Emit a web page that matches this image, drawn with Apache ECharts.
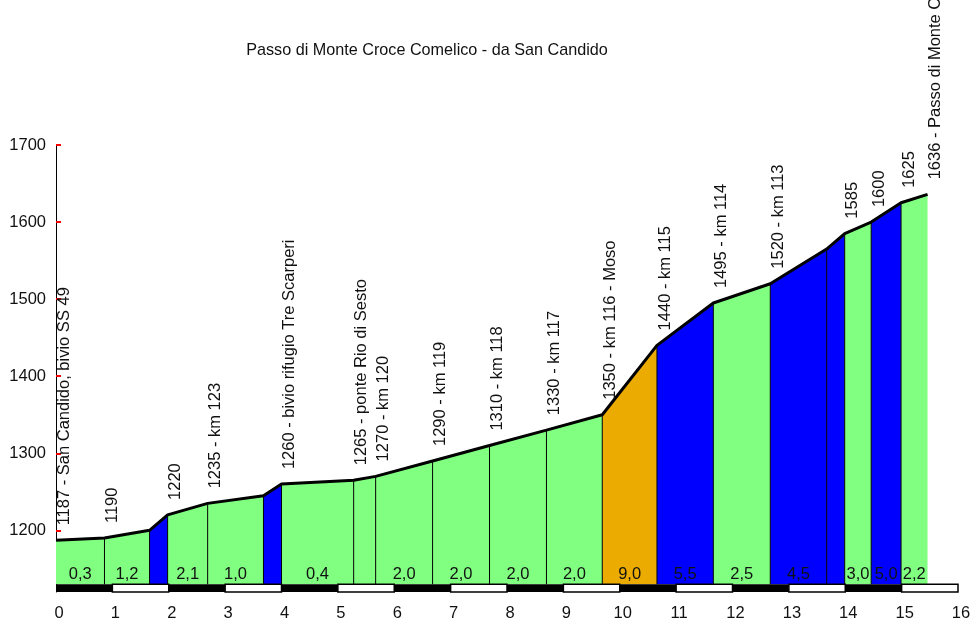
<!DOCTYPE html>
<html><head><meta charset="utf-8">
<script src="https://cdn.jsdelivr.net/npm/echarts@6/dist/echarts.min.js"></script>
<style>html,body{margin:0;padding:0;background:#fff}#c{width:976px;height:625px}</style>
</head><body><div id="c"></div>
<script>
const titleText = 'Passo di Monte Croce Comelico - da San Candido';
const kmPoints = [0, 0.86, 1.66, 1.98, 2.69, 3.68, 4.0, 5.28, 5.67, 6.68, 7.69, 8.70, 9.69, 10.66, 11.66, 12.67, 13.67, 13.99, 14.46, 14.99, 15.46];
const elevations = [1187, 1190, 1200, 1220, 1235, 1245, 1260, 1265, 1270, 1290, 1310, 1330, 1350, 1440, 1495, 1520, 1565, 1585, 1600, 1625, 1636];
const pointLabels = [
  '1187 - San Candido, bivio SS 49', '1190', '', '1220', '1235 - km 123', '',
  '1260 - bivio rifugio Tre Scarperi', '1265 - ponte Rio di Sesto', '1270 - km 120',
  '1290 - km 119', '1310 - km 118', '1330 - km 117', '1350 - km 116 - Moso',
  '1440 - km 115', '1495 - km 114', '1520 - km 113', '', '1585', '1600', '1625',
  '1636 - Passo di Monte Croce Comelico'
];
const gradeLabels = ['0,3', '1,2', '', '2,1', '1,0', '', '0,4', '', '2,0', '2,0', '2,0', '2,0', '9,0', '5,5', '2,5', '4,5', '', '3,0', '5,0', '2,2'];
const gradeClass = ['low', 'low', 'mid', 'low', 'low', 'mid', 'low', 'low', 'low', 'low', 'low', 'low', 'high', 'mid', 'low', 'mid', 'mid', 'low', 'mid', 'low'];
const kmTicks = [0, 1, 2, 3, 4, 5, 6, 7, 8, 9, 10, 11, 12, 13, 14, 15, 16];
const elevationTicks = [1200, 1300, 1400, 1500, 1600, 1700];

const FONT = '"Liberation Sans", Arial, sans-serif';
const FS = 16.5;
const TXT = '#111';
const classColor = { low: '#80FF80', mid: '#0000FF', high: '#EBAB00' };
const BASE = 1130, FLOOR = 1120;

const chart = echarts.init(document.getElementById('c'));

const segmentSeries = {
  type: 'custom', z: 2,
  data: gradeLabels.map((g, i) => [i]),
  renderItem: function (params, api) {
    const i = api.value(0);
    const a = api.coord([kmPoints[i], elevations[i]]);
    const b = api.coord([kmPoints[i + 1], elevations[i + 1]]);
    const a0 = api.coord([kmPoints[i], BASE]);
    const b0 = api.coord([kmPoints[i + 1], BASE]);
    const children = [
      { type: 'polygon', shape: { points: [a0, a, b, b0] }, style: { fill: classColor[gradeClass[i]] } }
    ];
    if (i > 0) {
      children.push({ type: 'line', shape: { x1: a0[0], y1: a0[1], x2: a[0], y2: a[1] }, style: { stroke: '#000', lineWidth: 1 } });
    }
    if (gradeLabels[i]) {
      children.push({ type: 'text', style: { text: gradeLabels[i], x: (a0[0] + b0[0]) / 2, y: a0[1] - 10, align: 'center', verticalAlign: 'middle', fontFamily: FONT, fontSize: FS, fill: TXT } });
    }
    return { type: 'group', children: children };
  }
};

const barSeries = {
  type: 'custom', z: 3,
  data: kmTicks.slice(0, -1).map(k => [k]),
  renderItem: function (params, api) {
    const k = api.value(0);
    const p1 = api.coord([k, BASE]);
    const p2 = api.coord([k + 1, FLOOR]);
    const even = k % 2 === 0;
    return {
      type: 'rect',
      shape: { x: p1[0], y: p1[1], width: p2[0] - p1[0], height: p2[1] - p1[1] },
      style: even ? { fill: '#000' } : { fill: '#fff', stroke: '#000', lineWidth: 1.5 }
    };
  }
};

const lineSeries = {
  type: 'line', z: 4,
  data: kmPoints.map((k, i) => [k, elevations[i]]),
  symbol: 'none',
  lineStyle: { color: '#000', width: 3 },
  silent: true
};

const labelSeries = {
  type: 'custom', z: 5, clip: false,
  data: kmPoints.map((k, i) => [i]),
  renderItem: function (params, api) {
    const i = api.value(0);
    if (!pointLabels[i]) return null;
    const p = api.coord([kmPoints[i], elevations[i]]);
    return {
      type: 'text', x: p[0] + 8, y: p[1] - 15, rotation: Math.PI / 2,
      style: { text: pointLabels[i], x: 0, y: 0, align: 'left', verticalAlign: 'middle', fontFamily: FONT, fontSize: FS, fill: TXT }
    };
  }
};

chart.setOption({
  animation: false,
  title: { text: titleText, left: 422, top: 38, textAlign: 'center', textStyle: { fontFamily: FONT, fontSize: 16.2, fontWeight: 'normal', color: TXT } },
  grid: { left: 56, right: 18, top: 145, bottom: 33 },
  xAxis: {
    type: 'value', min: 0, max: 16, interval: 1,
    axisLine: { show: false }, axisTick: { show: false }, splitLine: { show: false },
    axisLabel: { fontFamily: FONT, fontSize: FS, color: TXT, margin: 13, padding: [0, 0, 0, 6] }
  },
  yAxis: {
    type: 'value', min: FLOOR, max: 1700,
    axisLine: { show: true, lineStyle: { color: '#000', width: 1 } },
    axisTick: { show: true, inside: true, length: 5, lineStyle: { color: '#ff0000', width: 2 }, customValues: elevationTicks },
    axisLabel: { customValues: elevationTicks, formatter: v => String(v), fontFamily: FONT, fontSize: FS, color: TXT, margin: 10 },
    splitLine: { show: false }
  },
  series: [segmentSeries, barSeries, lineSeries, labelSeries]
});
</script></body></html>
